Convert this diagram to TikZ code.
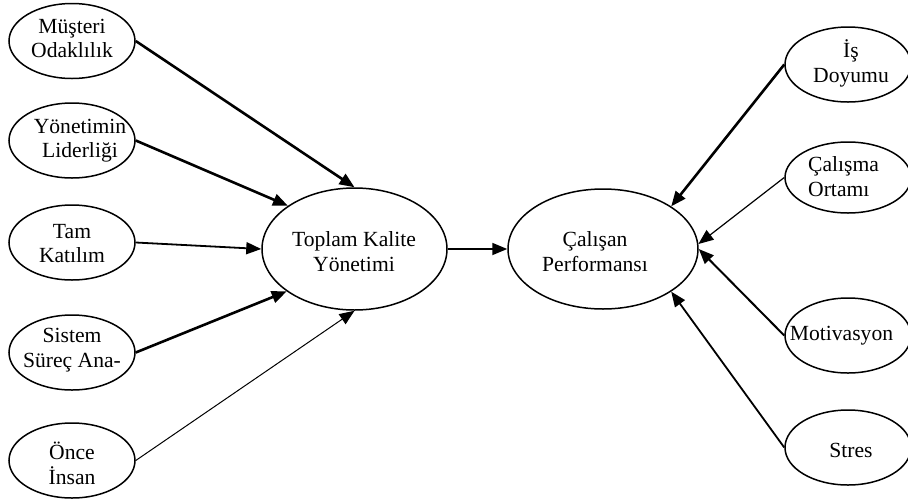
\documentclass[tikz,border=0pt]{standalone}
\usepackage{fontspec}
\setmainfont{Liberation Serif}
\usetikzlibrary{shapes.geometric,arrows.meta}

\begin{document}
\begin{tikzpicture}[x=1pt,y=-1pt,
  kutu/.style={draw,ellipse,line width=1.5pt,inner sep=0pt,minimum width=126pt,minimum height=75pt},
  buyuk/.style={draw,ellipse,line width=1.5pt,inner sep=0pt,minimum width=185pt,minimum height=122pt},
  yazi/.style={align=center,inner sep=0pt,font=\fontsize{21.6}{24.5}\selectfont},
  ok/.style={-{Triangle[length=15pt,width=12pt]}}]
\useasboundingbox (0,0) rectangle (908,499);

% sol taraf
\node[kutu] (musteri) at (72,41) {};
\node[kutu] (yonetim) at (72,140.5) {};
\node[kutu] (tam) at (72,242.5) {};
\node[kutu] (sistem) at (72,352.5) {};
\node[kutu] (once) at (72,460.5) {};
\node[yazi] (musteriyazi) at (72,38.5) {Müşteri\\Odaklılık};
\node[yazi] (yonetimyazi) at (80,140.5) {Yönetimin\\Liderliği};
\node[yazi] (tamyazi) at (72,243.5) {Tam\\Katılım};
\node[yazi] (sistemyazi) at (72,350) {Sistem\\Süreç Ana-};
\node[yazi] (onceyazi) at (72,463.5) {Önce\\İnsan};

% orta
\node[buyuk] (tky) at (354.5,249) {};
\node[yazi] (tkyyazi) at (354,251.5) {Toplam Kalite\\Yönetimi};
\node[buyuk,minimum width=190pt,minimum height=120pt] (perf) at (603,249) {};
\node[yazi] (perfyazi) at (595,251.5) {Çalışan\\Performansı};

% sag taraf
\node[kutu] (isdoyum) at (848,64.5) {};
\node[kutu,minimum height=71pt] (ortam) at (848,177.5) {};
\node[kutu] (motiv) at (848,335.5) {};
\node[kutu] (stres) at (848,447.5) {};
\node[yazi] (isdoyumyazi) at (851,63.5) {İş\\Doyumu};
\node[yazi,align=left,anchor=west] (ortamyazi) at (808,176.5) {Çalışma\\Ortamı};
\node[yazi] (motivyazi) at (841.5,336) {Motivasyon};
\node[yazi] (stresyazi) at (851,450) {Stres};

\draw[ok,line width=2.6pt] (musteri.east) -- (tky.north);
\draw[ok,line width=2.6pt] (yonetim.east) -- (tky.147);
\draw[ok,line width=1.8pt] (tam.east) -- (tky.west);
\draw[ok,line width=2.6pt] (sistem.east) -- (tky.212);
\draw[ok,line width=1pt] (once.east) -- (tky.south);
\draw[ok,line width=1.8pt] (tky.east) -- (perf.west);
\draw[ok,line width=2.6pt] (isdoyum.west) -- (perf.32);
\draw[ok,line width=1.2pt] (ortam.west) -- (perf.3);
\draw[ok,line width=2pt] (motiv.west) -- (perf.east);
\draw[ok,line width=1.8pt] (stres.west) -- (perf.-32);

\end{tikzpicture}
\end{document}
